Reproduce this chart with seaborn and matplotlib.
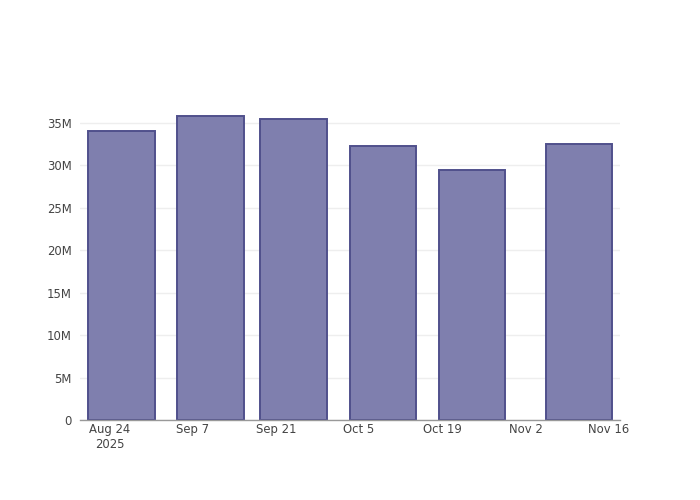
import matplotlib
matplotlib.use("Agg")
import matplotlib.pyplot as plt
import matplotlib.dates as mdates
import seaborn as sns
import pandas as pd
import numpy as np
from matplotlib.ticker import FuncFormatter, FixedLocator

dates = ["2025-08-26", "2025-09-10", "2025-09-24", "2025-10-09", "2025-10-24", "2025-11-11"]
values = [34.06e6, 35.86e6, 35.47e6, 32.3e6, 29.46e6, 32.5e6]
tick_dates = ["2025-08-24", "2025-09-07", "2025-09-21", "2025-10-05", "2025-10-19", "2025-11-02", "2025-11-16"]
tick_labels = ["Aug 24\n2025", "Sep 7", "Sep 21", "Oct 5", "Oct 19", "Nov 2", "Nov 16"]

sns.set_theme(style="white")
plt.rcParams['font.family'] = ['DejaVu Sans']

df = pd.DataFrame({"x": mdates.date2num(pd.to_datetime(dates)), "y": values})

fig = plt.figure(figsize=(7, 5), dpi=100)
ax = fig.add_axes([80/700, 80/500, 540/700, 320/500])

sns.barplot(data=df, x="x", y="y", native_scale=True, width=0.8,
            color="#7f7fae", saturation=1, edgecolor="#50508c", linewidth=1.4, ax=ax)

x0 = mdates.date2num(pd.Timestamp("2025-08-24")) - 4.97
x1 = mdates.date2num(pd.Timestamp("2025-08-24")) + 85.9
ax.set_xlim(x0, x1)
ax.set_ylim(0, 37.7e6)

ax.xaxis.set_major_locator(FixedLocator(mdates.date2num(pd.to_datetime(tick_dates))))
ax.set_xticklabels(tick_labels)
ax.yaxis.set_major_locator(FixedLocator([0, 5e6, 10e6, 15e6, 20e6, 25e6, 30e6, 35e6]))
ax.yaxis.set_major_formatter(FuncFormatter(lambda v, p: "0" if v == 0 else f"{int(v/1e6)}M"))

ax.grid(axis="y", color="#eeeeee", linewidth=1)
ax.set_axisbelow(True)
for s in ["top", "right", "left"]:
    ax.spines[s].set_visible(False)
ax.spines["bottom"].set_color("#999999")
ax.spines["bottom"].set_linewidth(1)
ax.tick_params(axis="x", length=0, pad=2, labelsize=8.4, colors="#444444")
ax.tick_params(axis="y", length=5, width=1, color="#cccccc", pad=1, labelsize=8.4, labelcolor="#444444", direction="out")
for lbl in ax.get_xticklabels():
    lbl.set_multialignment("center")
ax.set_xlabel("")
ax.set_ylabel("")

fig.savefig("out.png", dpi=100)
